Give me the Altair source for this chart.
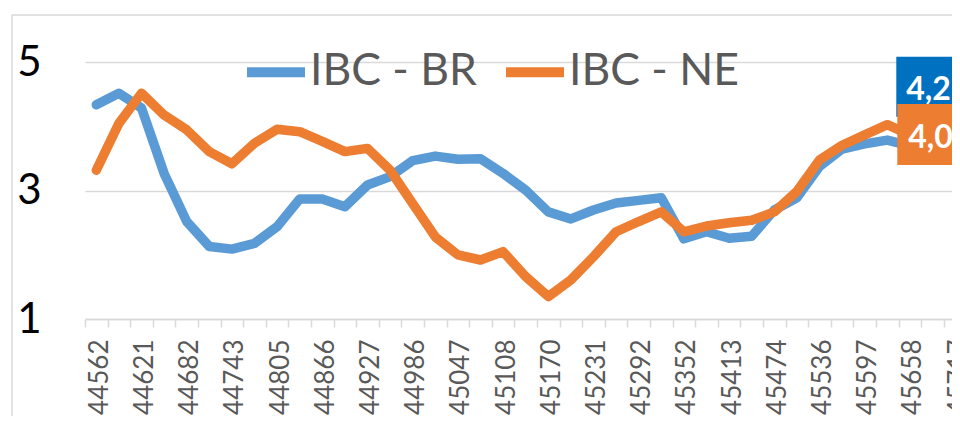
import json
import altair as alt
import pandas as pd

# category tick labels (Excel date serials), shown every other month
tick_labels = ["44562", "44621", "44682", "44743", "44805", "44866", "44927",
               "44986", "45047", "45108", "45170", "45231", "45292", "45352",
               "45413", "45474", "45536", "45597", "45658", "45717"]
n_cats = 40

series_names = ["IBC - BR", "IBC - NE"]
ibc_br = [4.34, 4.52, 4.29, 3.27, 2.52, 2.13, 2.09, 2.18, 2.44, 2.87, 2.87, 2.75,
          3.09, 3.22, 3.47, 3.54, 3.49, 3.50, 3.27, 3.01, 2.67, 2.56, 2.70, 2.81,
          2.85, 2.89, 2.25, 2.36, 2.26, 2.29, 2.70, 2.89, 3.38, 3.65, 3.73, 3.79, 3.70]
ibc_ne = [3.32, 4.05, 4.52, 4.18, 3.95, 3.61, 3.42, 3.74, 3.96, 3.92, 3.77, 3.61,
          3.66, 3.32, 2.80, 2.28, 2.00, 1.92, 2.05, 1.66, 1.35, 1.61, 1.97, 2.36,
          2.52, 2.67, 2.36, 2.45, 2.50, 2.54, 2.67, 2.99, 3.48, 3.71, 3.87, 4.03, 3.87]

# data labels at the last labelled point
label_k = 35
label_values = [4.2, 4.0]
label_texts = ["4,2", "4,0"]

rows = []
for name, vals in zip(series_names, [ibc_br, ibc_ne]):
    for k, v in enumerate(vals):
        rows.append({"k": k, "serie": name, "v": v})
df = pd.DataFrame(rows)

lab_df = pd.DataFrame({"k": [label_k, label_k], "v": label_values,
                       "txt": label_texts, "serie": series_names})

arr = []
for k in range(n_cats + 1):
    if k % 2 == 0 and k // 2 < len(tick_labels):
        arr.append(tick_labels[k // 2])
    else:
        arr.append("")
label_expr = json.dumps(arr) + "[round(datum.value + 0.5)]"

GRID = "#D9D9D9"
cat_w = 22.6
plot_w = 867
x_max = -0.5 + plot_w / cat_w

x_axis = alt.Axis(values=[k - 0.5 for k in range(n_cats + 1) if k - 0.5 <= x_max],
                  labelExpr=label_expr,
                  labelAngle=270, labelAlign="right", labelBaseline="middle",
                  labelOffset=cat_w / 2 + 3, labelFont="Lato", labelFontSize=26,
                  labelColor="#595959", labelPadding=12, tickColor=GRID, tickSize=8,
                  tickWidth=1.5, domainColor=GRID, domainWidth=1.5, grid=False,
                  title=None, labelOverlap=False, labelBound=False, labelFlush=False)
y_axis = alt.Axis(values=[1, 3, 5], grid=True, gridColor=GRID, gridWidth=1.5,
                  domain=False, ticks=False, labelFont="Lato", labelFontSize=42,
                  labelColor="#000000", labelPadding=44, title=None, labelFlush=False)

xs = alt.Scale(domain=[-0.5, x_max], nice=False, zero=False)
ys = alt.Scale(domain=[1, 5.6], nice=False, zero=False)
X = alt.X("k:Q", scale=xs, axis=x_axis)
Y = alt.Y("v:Q", scale=ys, axis=y_axis)

lines = alt.Chart(df).mark_line(strokeWidth=9.5, strokeCap="round", strokeJoin="round").encode(
    x=X, y=Y,
    color=alt.Color("serie:N", scale=alt.Scale(domain=series_names, range=["#5B9BD5", "#ED7D31"]),
                    legend=alt.Legend(orient="none", legendX=157, legendY=14, direction="horizontal",
                                      title=None, symbolType="stroke", symbolSize=3364,
                                      symbolStrokeWidth=10, labelFont="Lato", labelFontSize=44.5,
                                      labelColor="#595959", labelOffset=0, columnPadding=9,
                                      padding=0, labelLimit=400)),
    detail="serie:N",
)

lab = alt.Chart(lab_df)
box_br = lab.transform_filter(alt.datum.serie == series_names[0]).mark_rect(
    color="#0070C0", width=74, height=60, xOffset=46, yOffset=-27).encode(x=X, y=Y)
txt_br = lab.transform_filter(alt.datum.serie == series_names[0]).mark_text(
    color="white", font="Lato", fontSize=32, fontWeight="bold", align="left",
    baseline="alphabetic", dx=19, dy=-14).encode(x=X, y=Y, text="txt:N")
box_ne = lab.transform_filter(alt.datum.serie == series_names[1]).mark_rect(
    color="#ED7D31", width=74, height=61, xOffset=47, yOffset=8).encode(x=X, y=Y)
txt_ne = lab.transform_filter(alt.datum.serie == series_names[1]).mark_text(
    color="white", font="Lato", fontSize=32, fontWeight="bold", align="left",
    baseline="alphabetic", dx=21, dy=21).encode(x=X, y=Y, text="txt:N")

border = alt.Chart(alt.Data(values=[{}]))
border_v = border.mark_rule(color=GRID, strokeWidth=1.5).encode(
    x=alt.value(-73), y=alt.value(-9), y2=alt.value(600))
border_h = border.mark_rule(color=GRID, strokeWidth=1.5).encode(
    x=alt.value(-73), x2=alt.value(1200), y=alt.value(-9))

chart = alt.layer(border_v, border_h, lines, box_br, txt_br, box_ne, txt_ne).properties(
    width=plot_w, height=295,
    autosize=alt.AutoSizeParams(type="none"),
    padding={"left": 77, "top": 16, "right": 0, "bottom": 97},
    background="white",
).configure_view(stroke=None)

chart.save("out.html", embed_options={"renderer": "svg", "actions": False})
